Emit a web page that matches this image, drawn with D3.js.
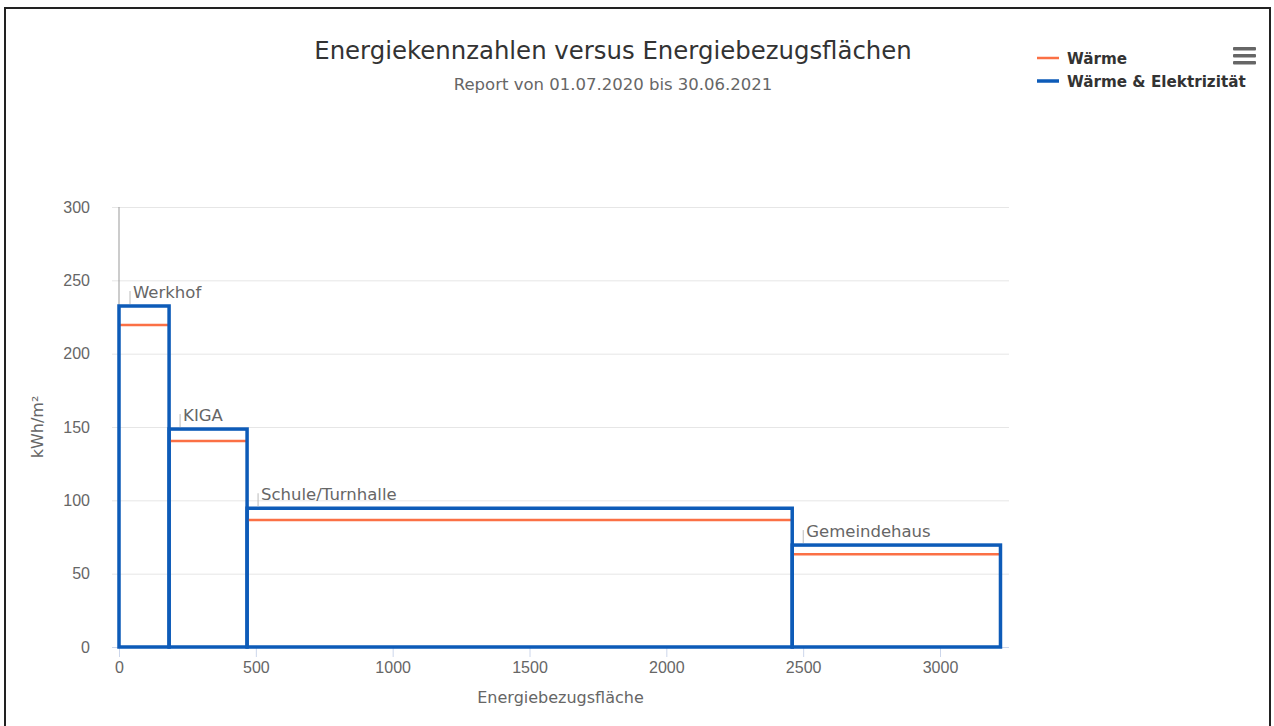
<!doctype html>
<html>
<head>
<meta charset="utf-8">
<style>
    body { margin: 0; background: #fff; font-family: 'DejaVu Sans', sans-serif; }
    svg { display: block; }
    text { fill: #666; }
    text.title { font-size: 24.4px; fill: #333; }
    text.subtitle { font-size: 16.5px; fill: #666; }
    text.axis-title { font-size: 16px; fill: #666; }
    text.label { font-size: 16.5px; fill: #666; }
    text.legend { font-size: 15.2px; font-weight: bold; fill: #333; }
    .grid line { stroke: #e6e6e6; }
    .grid path { stroke-width: 0; }
    .xaxis path, .xaxis line { stroke: #ccd6eb; }
    .xaxis text, .yaxis text { font-size: 16px; fill: #666; }
    .yaxis path, .yaxis line { stroke-width: 0; }
</style>
<script src="https://d3js.org/d3.v7.min.js"></script>
</head>
<body>
<svg width="1274" height="726"></svg>
<script>
    // buildings, their floor areas (m2) and energy figures (kWh/m2)
    const buildings = ['Werkhof', 'KIGA', 'Schule/Turnhalle', 'Gemeindehaus'];
    const areas = [183, 285, 1992, 761];
    const waerme = [219.5, 140.5, 86.6, 63.2];
    const waermeElek = [232.5, 148.6, 94.6, 69.5];
    const xTicks = [0, 500, 1000, 1500, 2000, 2500, 3000];
    const yTicks = [0, 50, 100, 150, 200, 250, 300];
    const seriesNames = ['Wärme', 'Wärme & Elektrizität'];
    const colors = ['#fb7045', '#0d5bb8'];

    const svg = d3.select('svg');

    const plotLeft = 112, plotRight = 1009, plotTop = 207, plotBottom = 647;

    const x = d3.scaleLinear().domain([0, 3000]).range([119, 940]);
    const y = d3.scaleLinear().domain([0, 300]).range([plotBottom, plotTop]);

    // outer frame
    svg.append('rect')
        .attr('x', 5).attr('y', 8)
        .attr('width', 1265).attr('height', 740)
        .attr('fill', 'none')
        .attr('stroke', '#222')
        .attr('stroke-width', 2);

    // grid
    svg.append('g')
        .attr('class', 'grid')
        .attr('transform', `translate(${plotLeft}, 0)`)
        .call(d3.axisLeft(y).tickValues(yTicks.slice(1))
            .tickSize(-(plotRight - plotLeft)).tickFormat(''));

    // y axis labels
    svg.append('g')
        .attr('class', 'yaxis')
        .attr('transform', 'translate(98, 0)')
        .call(d3.axisLeft(y).tickValues(yTicks).tickSize(0).tickPadding(8));

    // thin y axis line
    svg.append('line')
        .attr('x1', x(0)).attr('x2', x(0))
        .attr('y1', y(300)).attr('y2', y(0))
        .attr('stroke', '#999');

    // x axis
    const xAxis = svg.append('g')
        .attr('class', 'xaxis')
        .attr('transform', `translate(0, ${plotBottom})`)
        .call(d3.axisBottom(x).tickValues(xTicks).tickFormat(d3.format('d'))
            .tickSize(10).tickPadding(5).tickSizeOuter(0));
    xAxis.select('.domain').attr('d', `M${plotLeft},0.5H${plotRight}`);

    // cumulative x extents
    let acc = 0;
    const blocks = buildings.map((b, i) => {
        const x0 = acc;
        acc += areas[i];
        return { name: b, x0: x0, x1: acc, w: waerme[i], we: waermeElek[i] };
    });

    const groups = svg.selectAll('.block')
        .data(blocks)
        .enter()
        .append('g')
        .attr('class', 'block');

    groups.append('line')
        .attr('x1', d => x(d.x0))
        .attr('x2', d => x(d.x1))
        .attr('y1', d => y(d.w))
        .attr('y2', d => y(d.w))
        .attr('stroke', colors[0])
        .attr('stroke-width', 2.5);

    groups.append('rect')
        .attr('x', d => x(d.x0))
        .attr('y', d => y(d.we))
        .attr('width', d => x(d.x1) - x(d.x0))
        .attr('height', d => y(0) - y(d.we))
        .attr('fill', 'none')
        .attr('stroke', colors[1])
        .attr('stroke-width', 3.5);

    // data labels with small connector
    groups.append('line')
        .attr('x1', d => x(d.x0) + 11)
        .attr('x2', d => x(d.x0) + 11)
        .attr('y1', d => y(d.we) - 2)
        .attr('y2', d => y(d.we) - 15)
        .attr('stroke', '#bbb');

    groups.append('text')
        .attr('class', 'label')
        .attr('x', d => x(d.x0) + 14)
        .attr('y', d => y(d.we) - 8)
        .text(d => d.name);

    // titles
    svg.append('text')
        .attr('class', 'title')
        .attr('x', 613).attr('y', 59)
        .attr('text-anchor', 'middle')
        .text('Energiekennzahlen versus Energiebezugsflächen');

    svg.append('text')
        .attr('class', 'subtitle')
        .attr('x', 613).attr('y', 90)
        .attr('text-anchor', 'middle')
        .text('Report von 01.07.2020 bis 30.06.2021');

    svg.append('text')
        .attr('class', 'axis-title')
        .attr('x', (plotLeft + plotRight) / 2)
        .attr('y', 703)
        .attr('text-anchor', 'middle')
        .text('Energiebezugsfläche');

    svg.append('text')
        .attr('class', 'axis-title')
        .attr('transform', `translate(43, ${(plotTop + plotBottom) / 2}) rotate(-90)`)
        .attr('text-anchor', 'middle')
        .text('kWh/m²');

    // legend
    const legend = svg.selectAll('.legend-item')
        .data(seriesNames)
        .enter()
        .append('g')
        .attr('transform', (d, i) => `translate(1037, ${58 + i * 23})`);

    legend.append('line')
        .attr('x1', 0).attr('x2', 22)
        .attr('stroke', (d, i) => colors[i])
        .attr('stroke-width', (d, i) => i === 0 ? 2.5 : 3.5);

    legend.append('text')
        .attr('class', 'legend')
        .attr('x', 30).attr('y', 6)
        .text(d => d);

    // menu icon
    svg.selectAll('.menu')
        .data([0, 1, 2])
        .enter()
        .append('rect')
        .attr('x', 1233).attr('y', d => 47 + d * 7)
        .attr('width', 23).attr('height', 3.5)
        .attr('rx', 1)
        .attr('fill', '#666');
</script>
</body>
</html>
